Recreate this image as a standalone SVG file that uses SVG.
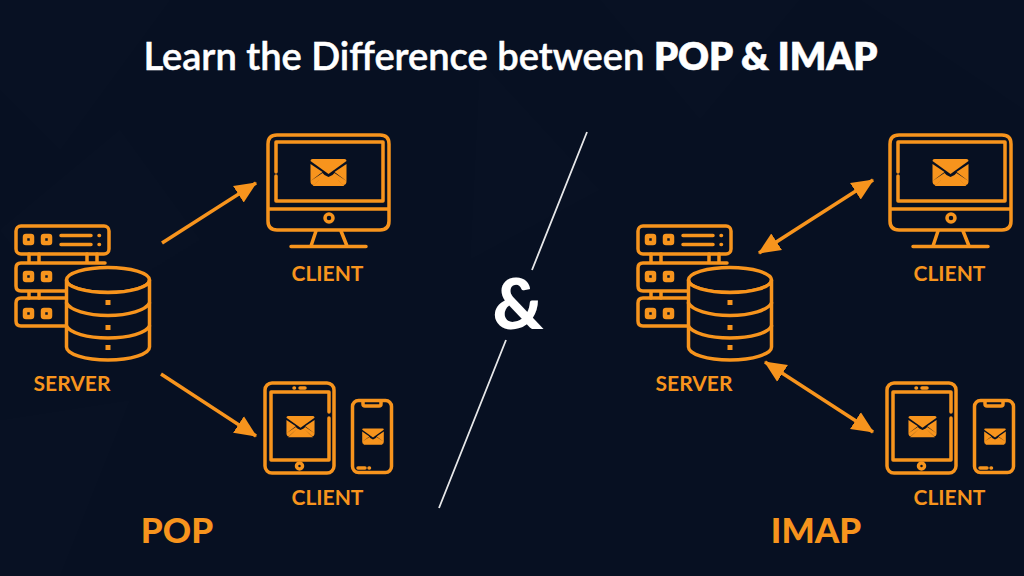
<svg xmlns="http://www.w3.org/2000/svg" xmlns:xlink="http://www.w3.org/1999/xlink" width="1024" height="576" viewBox="0 0 1024 576">
<style>
.o{fill:none;stroke:#f7941d;stroke-width:3.500;stroke-linecap:round;stroke-linejoin:round}
.s{fill:#0a1426;stroke:#f7941d;stroke-width:4.500;stroke-linejoin:round}
.f{fill:#f7941d;stroke:none}
.bgm{fill:#fff;opacity:.008}
text{font-family:Lato,"Liberation Sans",sans-serif}
.lab{fill:#f7941d;font-size:21px;font-weight:700;text-anchor:middle}
.big{fill:#f7941d;font-size:35px;font-weight:900;text-anchor:middle}
</style>
<defs>
<marker id="ah" markerUnits="userSpaceOnUse" markerWidth="22" markerHeight="22" refX="19" refY="9" orient="auto-start-reverse" viewBox="0 0 20 18"><path d="M0 0L20 9L0 18Z" fill="#f7941d"/></marker>
<g id="env"><path class="f" d="M-16-14H16Q18-14 18-12L0 1L-18-12Q-18-14-16-14Z"/><path class="f" d="M-18-9L-6-1L-18 8ZM18-9L6-1L18 8ZM-16 13L-4 2L0 4L4 2L16 13Z M-18 8L-6 0L-4 2L-15 12Q-18 12-18 8Z M18 8L6 0L4 2L15 12Q18 12 18 8Z"/></g>
<g id="server">
<rect class="o" x="16" y="226" width="93" height="28" rx="5"/>
<rect class="s" x="25" y="236" width="7" height="7" rx="1"/><rect class="s" x="43" y="236" width="7" height="7" rx="1"/>
<path class="o" d="M61 235.500H91M61 244.500H91M99 235.500h.5M99 244.500h.5"/>
<path class="o" d="M29 254V263M39 254V263M87 254V263M97 254V263M29 291V298M39 291V298M16 268V286Q16 291 21 291H65M65 263H21Q16 263 16 268M65 263H105"/>
<rect class="s" x="25" y="273" width="7" height="7" rx="1"/><rect class="s" x="43" y="273" width="7" height="7" rx="1"/>
<path class="o" d="M65 298H21Q16 298 16 303V321Q16 326 21 326H65"/>
<rect class="s" x="25" y="310" width="7" height="7" rx="1"/><rect class="s" x="43" y="310" width="7" height="7" rx="1"/>
<ellipse class="o" cx="108" cy="280" rx="41.500" ry="12.500" style="fill:#071022"/>
<path class="o" style="fill:#071022" d="M66.500 280V347C66.500 354 85 360 108 360S149.500 354 149.500 347V280C149.500 287 131 292.500 108 292.500S66.500 287 66.500 280Z"/>
<path class="o" d="M66.500 303C70 310 87 315.500 108 315.500S146 310 149.500 303M66.500 326C70 333 87 338 108 338S146 333 149.500 326"/>
<rect class="f" x="105.500" y="300" width="5" height="5"/><rect class="f" x="105.500" y="325" width="5" height="5"/><rect class="f" x="105.500" y="345" width="5" height="5"/>
</g>
<g id="desk">
<path class="o" d="M268 144Q268 135 277 135H380Q389 135 389 144V221Q389 230 380 230H277Q268 230 268 221V144M268 209H389"/>
<path class="o" d="M276 172V142H383V201H276V176"/>
<use href="#env" transform="translate(328.500 173)"/>
<circle class="o" cx="329" cy="218" r="4"/>
<path class="o" d="M316 231L311 246M341 231L347 246M291 246.500H366"/>
</g>
<g id="mob">
<rect class="o" x="265" y="383" width="69" height="90" rx="7"/>
<path class="o" d="M271 413V444M271 452V392H329V412M329 418V460H271V452" />
<path class="o" d="M294 388h.5M300 388H305"/>
<circle class="o" cx="299.500" cy="466" r="3"/>
<use href="#env" transform="translate(300.500 427) scale(.78)"/>
<rect class="o" x="352.500" y="400.500" width="39" height="72" rx="6"/>
<path class="o" d="M363 401V404Q363 406 365 406H379Q381 406 381 404V401"/>
<path class="o" d="M358 468H365M369 468h.5"/>
<use href="#env" transform="translate(373 437) scale(.6)"/>
</g>
</defs>

<rect id="bg" width="1024" height="576" fill="#071022"/>
<g id="facets">
<path class="bgm" d="M0 0H170L60 150L0 90Z"/>
<path class="bgm" d="M0 230L120 130L200 240L70 320Z"/>
<path class="bgm" d="M600 0H800L700 120Z"/>
<path class="bgm" d="M480 60L600 190L470 260Z"/>
<path class="bgm" d="M0 420L130 400L60 576H0Z"/>
<path class="bgm" d="M860 0H1024V110Z"/>
</g>

<text id="title" x="510.500" y="70" fill="#fff" font-size="38.100" font-weight="600" text-anchor="middle" stroke="#fff" stroke-width=".5">Learn the Difference between <tspan font-weight="800">POP &amp; IMAP</tspan></text>

<g id="connectors">
<path class="o" style="stroke-linecap:butt" d="M162 243L256 183" marker-end="url(#ah)"/>
<path class="o" style="stroke-linecap:butt" d="M161 374L256 436" marker-end="url(#ah)"/>
<path class="o" style="stroke-linecap:butt" d="M759 253L873 180" marker-start="url(#ah)" marker-end="url(#ah)"/>
<path class="o" style="stroke-linecap:butt" d="M765 362L873 432" marker-start="url(#ah)" marker-end="url(#ah)"/>
</g>

<g id="divider"><path d="M587 132L532 270M506 340L439 508" stroke="#fff" stroke-width="1.800" fill="none" opacity=".9"/></g>
<text id="amp" x="518" y="329" fill="#fff" font-size="70" font-weight="900" text-anchor="middle">&amp;</text>

<g id="pop-server"><use href="#server"/><text class="lab" x="72" y="391">SERVER</text></g>
<g id="pop-client-desktop"><use href="#desk"/><text class="lab" x="327.500" y="281">CLIENT</text></g>
<g id="pop-client-mobile"><use href="#mob"/><text class="lab" x="327.500" y="505">CLIENT</text></g>
<text id="pop-label" class="big" x="177" y="543">POP</text>

<g id="imap-server"><use href="#server" x="622"/><text class="lab" x="694" y="391">SERVER</text></g>
<g id="imap-client-desktop"><use href="#desk" x="622"/><text class="lab" x="949.500" y="281">CLIENT</text></g>
<g id="imap-client-mobile"><use href="#mob" x="622"/><text class="lab" x="949.500" y="505">CLIENT</text></g>
<text id="imap-label" class="big" x="816" y="543">IMAP</text>
</svg>
